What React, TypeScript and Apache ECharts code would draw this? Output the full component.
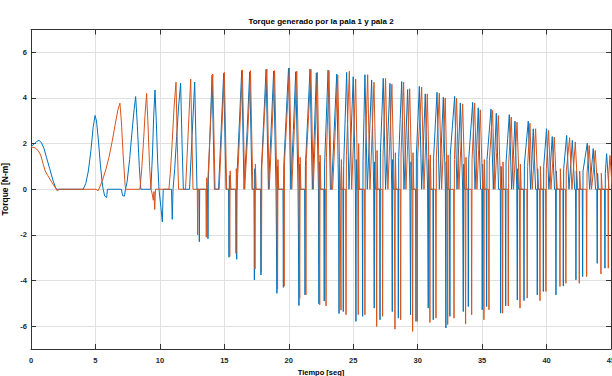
import React, { useEffect, useRef } from "react";
import * as echarts from "echarts";

const TITLE = "Torque generado por la pala 1 y pala 2";
const X_NAME = "Tiempo [seg]";
const Y_NAME = "Torque [N-m]";
const X_RANGE = [0, 45];
const Y_RANGE = [-7, 7];

// Early part of each trace, read point by point: [t (s), torque (N-m)]
const blueEarly: [number, number][] = [
  [0, 1.88], [0.25, 1.98], [0.45, 2.1], [0.62, 2.14], [0.8, 2.05], [1.0, 1.8], [1.2, 1.4], [1.45, 0.9], [1.7, 0.4], [1.9, 0.08], [2.0, 0],
  [4.05, 0], [4.25, 0.25], [4.45, 0.8], [4.65, 1.7], [4.82, 2.7], [4.97, 3.23], [5.08, 3.0], [5.22, 2.2], [5.38, 1.1], [5.52, 0.3], [5.6, 0], [5.72, -0.3], [5.87, -0.36], [5.93, 0],
  [7.02, 0], [7.1, -0.28], [7.25, -0.3], [7.33, 0], [7.45, 0.3], [7.65, 1.3], [7.85, 2.6], [8.0, 3.5], [8.12, 4.06], [8.25, 2.8], [8.4, 1.0], [8.52, 0],
  [9.3, 0], [9.42, 1.5], [9.52, 3.2], [9.62, 4.35], [9.72, 3.0], [9.83, 1.2], [9.93, 0], [10.08, -0.8], [10.19, -1.43], [10.26, 0],
  [10.9, 0], [10.96, -1.32], [11.02, 0], [11.15, 0.9], [11.3, 2.3], [11.45, 3.6], [11.61, 4.64], [11.72, 2.0], [11.82, 0], [12.0, 0],
];
const orangeEarly: [number, number][] = [
  [0, 1.85], [0.3, 1.82], [0.55, 1.7], [0.75, 1.5], [0.95, 1.1], [1.1, 0.8], [1.3, 0.6], [1.6, 0.32], [1.85, 0.1], [2.04, -0.07], [2.2, 0],
  [5.05, 0], [5.2, -0.07], [5.3, 0.05], [5.55, 0.4], [5.8, 0.85], [6.05, 1.4], [6.3, 2.1], [6.55, 2.9], [6.75, 3.5], [6.9, 3.77], [7.02, 2.9], [7.15, 1.5], [7.3, 0.2], [7.35, 0],
  [8.45, 0], [8.58, 0.8], [8.72, 2.0], [8.85, 3.3], [8.97, 4.2], [9.08, 2.8], [9.2, 1.0], [9.31, 0], [9.4, -0.2], [9.49, -0.48], [9.54, -0.1], [9.6, -0.89], [9.66, 0],
  [10.7, 0], [10.82, 0.8], [10.95, 2.0], [11.1, 3.6], [11.25, 4.69], [11.35, 2.0], [11.45, 0], [11.9, 0],
];

// Later part: positive torque peaks [t, value]
const bluePeaks: [number, number][] = [
  [12.7, 4.7], [14.05, 5.0], [14.95, 5.08], [16.35, 5.2], [16.97, 5.15], [18.24, 5.25], [18.83, 5.18],
  [19.98, 5.3], [20.54, 5.15], [21.65, 5.27], [22.14, 5.1], [23.05, 5.22], [23.72, 5.05],
  [24.49, 5.12], [25.0, 4.93], [25.91, 5.02], [26.43, 4.79], [27.33, 4.86], [27.85, 4.64],
  [28.76, 4.72], [29.22, 4.37], [30.13, 4.51], [30.59, 4.18], [31.5, 4.25], [31.99, 4.03],
  [32.87, 4.07], [33.31, 3.78], [34.27, 3.81], [34.7, 3.57], [35.69, 3.52], [36.1, 3.33],
  [37.11, 3.27], [37.55, 2.98], [38.58, 2.98], [38.97, 2.65], [40.0, 2.65], [40.44, 2.31],
  [41.56, 2.36], [42.0, 2.14], [43.16, 2.02], [43.62, 1.78], [44.66, 1.56],
];
// Negative spikes [t, depth, rebound value right after the spike]
const blueSpikes: [number, number, number][] = [
  [13.06, -2.3, 0], [13.73, -2.17, 0.4], [15.36, -2.98, 0.6], [15.96, -3.07, 0.7],
  [17.33, -3.97, 0.9], [17.84, -3.76, 0.8], [19.08, -4.56, 1.0], [19.58, -4.3, 1.0],
  [20.79, -5.1, 1.1], [21.26, -4.63, 1.0], [22.34, -5.02, 1.2], [22.75, -4.9, 1.1],
  [23.9, -5.45, 1.1], [24.23, -5.36, 1.05], [25.21, -5.79, 1.3], [25.73, -5.57, 1.27],
  [26.63, -5.21, 1.2], [27.08, -5.72, 1.6], [28.03, -5.36, 1.3], [28.5, -5.65, 1.4],
  [29.45, -5.5, 1.2], [29.87, -5.79, 1.5], [30.82, -5.21, 1.3], [31.21, -5.72, 1.4],
  [32.19, -6.08, 1.2], [32.5, -5.57, 1.5], [33.54, -5.36, 1.1], [33.93, -5.14, 1.3],
  [35.01, -5.28, 1.1], [35.35, -5.14, 1.3], [36.44, -5.43, 1.0], [36.83, -5.11, 1.2],
  [37.73, -4.85, 0.9], [38.25, -4.88, 1.1], [39.28, -4.63, 0.9], [39.75, -4.48, 1.0],
  [40.73, -4.63, 0.8], [41.3, -4.24, 0.9], [42.28, -3.97, 0.8], [42.8, -3.83, 0.8],
  [43.93, -3.25, 0.7], [44.53, -3.46, 0.7],
];
const orangePeaks: [number, number][] = [
  [12.39, 4.83], [14.1, 5.05], [15.0, 5.12], [16.4, 5.23], [17.03, 5.2], [18.3, 5.27], [18.9, 5.2],
  [20.05, 5.31], [20.62, 5.17], [21.72, 5.25], [22.22, 5.12], [23.12, 5.2], [23.8, 5.0],
  [24.7, 5.17], [25.19, 4.83], [26.12, 5.02], [26.61, 4.69], [27.51, 4.86], [28.0, 4.6],
  [28.91, 4.69], [29.38, 4.4], [30.31, 4.47], [30.75, 4.18], [31.68, 4.21], [32.14, 4.0],
  [33.02, 3.99], [33.49, 3.74], [34.42, 3.78], [34.86, 3.48], [35.81, 3.45], [36.26, 3.23],
  [37.26, 3.16], [37.71, 2.94], [38.71, 2.89], [39.15, 2.65], [40.16, 2.58], [40.6, 2.29],
  [41.79, 2.26], [42.23, 2.07], [43.31, 1.92], [43.78, 1.7], [44.92, 1.48],
];
const orangeSpikes: [number, number, number][] = [
  [12.93, -2.0, 0], [13.6, -2.1, 0.5], [15.42, -2.95, 0.8], [15.9, -2.81, 0.9],
  [17.38, -3.5, 1.1], [17.88, -3.6, 1.0], [19.13, -4.37, 1.3], [19.64, -4.25, 1.2],
  [20.85, -4.78, 1.4], [21.33, -4.63, 1.3], [22.4, -5.06, 1.5], [22.89, -5.11, 1.4],
  [24.05, -5.3, 1.3], [24.44, -5.5, 1.47], [25.39, -5.5, 2.0], [25.91, -5.5, 1.5],
  [26.82, -6.01, 1.7], [27.28, -5.57, 1.4], [28.24, -6.13, 1.6], [28.68, -5.72, 1.5],
  [29.61, -6.23, 1.6], [29.97, -5.79, 1.4], [30.95, -5.84, 1.5], [31.42, -5.65, 1.4],
  [32.33, -5.93, 1.5], [32.82, -5.65, 1.3], [33.72, -5.91, 1.4], [34.19, -5.5, 1.3],
  [35.14, -5.72, 1.3], [35.53, -5.28, 1.2], [36.59, -5.43, 1.2], [37.03, -5.11, 1.1],
  [37.94, -5.21, 1.1], [38.5, -4.77, 1.0], [39.49, -4.88, 1.0], [39.95, -4.48, 0.9],
  [41.04, -4.26, 0.9], [41.5, -4.12, 0.8], [42.54, -4.12, 0.8], [43.11, -3.83, 0.7],
  [44.22, -3.71, 0.7], [44.79, -3.46, 0.6],
];

type Ev = { t: number; v: number; r: number; k: "p" | "s" };

function buildTrace(early: [number, number][], peaks: [number, number][], spikes: [number, number, number][]) {
  const ev: Ev[] = [
    ...peaks.map(([t, v]) => ({ t, v, r: 0, k: "p" as const })),
    ...spikes.map(([t, v, r]) => ({ t, v, r, k: "s" as const })),
  ].sort((a, b) => a.t - b.t);
  const pts: [number, number][] = early.slice();
  ev.forEach((e, i) => {
    const nx = i + 1 < ev.length ? ev[i + 1] : null;
    const next = nx ? nx.t : Infinity;
    const last = pts[pts.length - 1];
    if (e.k === "s") {
      if (e.t - 0.03 > last[0]) pts.push([e.t - 0.03, 0]);
      pts.push([e.t, e.v]);
      pts.push([e.t + 0.03, e.r]);
      const peakSoon = nx && nx.k === "p" && next - e.t <= 0.45;
      if (e.r !== 0 && !peakSoon) pts.push([Math.min(e.t + 0.09, next - 0.04), 0]);
    } else {
      let start: number;
      let startV: number;
      if (last[1] !== 0 && e.t - last[0] <= 0.45) {
        start = last[0];
        startV = last[1];
      } else {
        start = Math.max(last[0] + 0.01, e.t - 0.4);
        startV = 0;
        pts.push([start, 0]);
      }
      pts.push([e.t - (e.t - start) * 0.5, startV + (e.v - startV) * 0.5]);
      pts.push([e.t, e.v]);
      pts.push([Math.min(e.t + 0.18, next - 0.04), 0]);
    }
  });
  return pts;
}

const FONT = "'Liberation Sans', Arial, Helvetica, sans-serif";
const AXIS_COLOR = "#333333";
const GRID_COLOR = "#e0e0e0";

export default function App() {
  const ref = useRef<HTMLDivElement>(null);
  useEffect(() => {
    if (!ref.current) return;
    const chart = echarts.init(ref.current, undefined, { renderer: "svg" });
    const frameAxis = {
      axisLine: { show: true, onZero: false, lineStyle: { color: AXIS_COLOR, width: 1 } },
      axisTick: { show: true, inside: true, length: 5, lineStyle: { color: AXIS_COLOR, width: 1 } },
    };
    chart.setOption({
      animation: false,
      backgroundColor: "#ffffff",
      title: {
        text: TITLE,
        left: 321,
        top: 17,
        padding: 0,
        textAlign: "center",
        textStyle: { fontSize: 8, fontWeight: "bold", color: "#000", fontFamily: FONT },
      },
      grid: { left: 31, right: 1, top: 29.5, bottom: 27, containLabel: false, outerBoundsMode: "none" },
      xAxis: [
        {
          type: "value", min: X_RANGE[0], max: X_RANGE[1], interval: 5, position: "bottom",
          ...frameAxis,
          axisLabel: { fontSize: 7.5, fontWeight: "bold", color: "#262626", margin: 7, fontFamily: FONT },
          splitLine: { show: true, lineStyle: { color: GRID_COLOR, width: 1 } },
          name: X_NAME, nameLocation: "middle", nameGap: 17,
          nameTextStyle: { fontSize: 7.5, fontWeight: "bold", color: "#000", fontFamily: FONT },
        },
        {
          type: "value", min: X_RANGE[0], max: X_RANGE[1], interval: 5, position: "top",
          ...frameAxis,
          axisLabel: { show: false }, splitLine: { show: false },
        },
      ],
      yAxis: [
        {
          type: "value", min: Y_RANGE[0], max: Y_RANGE[1], splitNumber: 7, position: "left",
          ...frameAxis,
          axisLabel: { fontSize: 7.5, fontWeight: "bold", color: "#262626", margin: 4, fontFamily: FONT, showMinLabel: false, showMaxLabel: false },
          splitLine: { show: true, lineStyle: { color: GRID_COLOR, width: 1 } },
          name: Y_NAME, nameLocation: "middle", nameGap: 13,
          nameTextStyle: { fontSize: 8.5, fontWeight: "bold", color: "#000", fontFamily: FONT },
        },
        {
          type: "value", min: Y_RANGE[0], max: Y_RANGE[1], splitNumber: 7, position: "right",
          ...frameAxis,
          axisLabel: { show: false }, splitLine: { show: false },
        },
      ],
      series: [
        {
          type: "line", name: "pala 1", data: buildTrace(blueEarly, bluePeaks, blueSpikes),
          showSymbol: false, symbol: "none", silent: true,
          lineStyle: { color: "#0072BD", width: 1 },
        },
        {
          type: "line", name: "pala 2", data: buildTrace(orangeEarly, orangePeaks, orangeSpikes),
          showSymbol: false, symbol: "none", silent: true,
          lineStyle: { color: "#D95319", width: 1 },
        },
      ],
    });
    return () => chart.dispose();
  }, []);
  return <div ref={ref} style={{ position: "absolute", left: 0, top: 0, width: 612, height: 376 }} />;
}
